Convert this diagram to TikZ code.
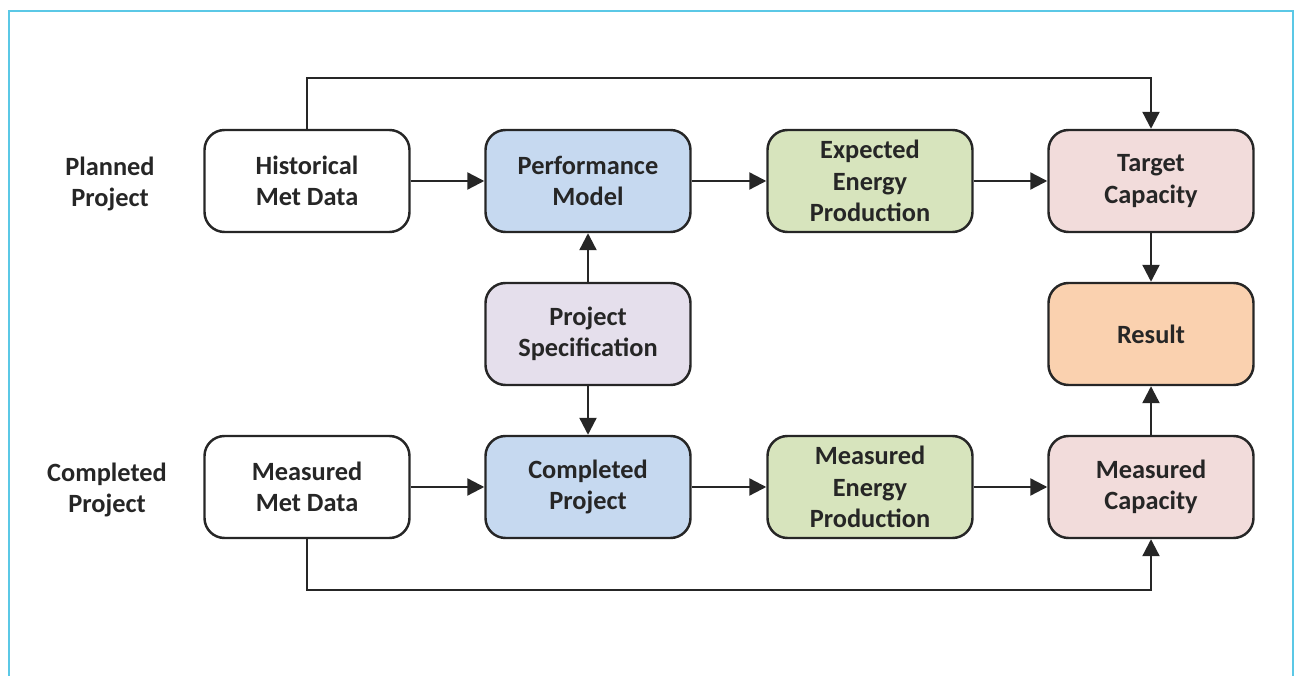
\documentclass[tikz,border=0pt]{standalone}
\usepackage{fontspec}
\setmainfont{Carlito}
\usetikzlibrary{arrows.meta, positioning}
\definecolor{frameblue}{HTML}{5BC8E6}
\definecolor{txtgray}{HTML}{262626}
\definecolor{modelblue}{HTML}{C6D9F0}
\definecolor{energygreen}{HTML}{D7E4BD}
\definecolor{capapink}{HTML}{F2DCDB}
\definecolor{resultorange}{HTML}{FAD1AF}
\definecolor{speclilac}{HTML}{E5DFEC}
\tikzset{
  block/.style={draw=txtgray, line width=1.4pt, rounded corners=0.4cm, fill=white,
    minimum width=4.1cm, minimum height=2.04cm, align=center, inner sep=0pt,
    text=txtgray, font=\fontsize{15}{18}\selectfont\bfseries},
  rowlabel/.style={align=center, text=txtgray, font=\fontsize{15}{18}\selectfont\bfseries},
  flow/.style={draw=txtgray, line width=1.3pt, -{Triangle[length=0.34cm, width=0.34cm]}}
}
\begin{document}
\begin{tikzpicture}
\useasboundingbox (0,0) rectangle (25.94,-13.52);
\draw[frameblue, line width=1pt] (0.18,-13.52) -- (0.18,-0.22) -- (25.86,-0.22) -- (25.86,-13.52);

\node[rowlabel] (planned) at (2.2,-3.68) {Planned\\Project};
\node[rowlabel] (completedlbl) at (2.14,-9.8) {Completed\\Project};

\node[block] (histmet) at (6.14,-3.62) {Historical\\Met Data};
\node[block, fill=modelblue] (perfmodel) at (11.76,-3.62) {Performance\\Model};
\node[block, fill=energygreen] (expenergy) at (17.40,-3.62) {Expected\\Energy\\Production};
\node[block, fill=capapink] (targetcap) at (23.02,-3.62) {Target\\Capacity};

\node[block, fill=speclilac] (projspec) at (11.76,-6.68) {Project\\Specification};
\node[block, fill=resultorange] (result) at (23.02,-6.68) {Result};

\node[block] (measmet) at (6.14,-9.74) {Measured\\Met Data};
\node[block, fill=modelblue] (complproj) at (11.76,-9.74) {Completed\\Project};
\node[block, fill=energygreen] (measenergy) at (17.40,-9.74) {Measured\\Energy\\Production};
\node[block, fill=capapink] (meascap) at (23.02,-9.74) {Measured\\Capacity};

\coordinate (topleft) at (6.14,-1.56);
\coordinate (topright) at (23.02,-1.56);
\coordinate (botleft) at (6.14,-11.8);
\coordinate (botright) at (23.02,-11.8);

\draw[flow] (histmet) -- (perfmodel);
\draw[flow] (perfmodel) -- (expenergy);
\draw[flow] (expenergy) -- (targetcap);
\draw[flow] (targetcap) -- (result);
\draw[flow] (projspec) -- (perfmodel);
\draw[flow] (projspec) -- (complproj);
\draw[flow] (measmet) -- (complproj);
\draw[flow] (complproj) -- (measenergy);
\draw[flow] (measenergy) -- (meascap);
\draw[flow] (meascap) -- (result);
\draw[flow] (histmet.north) -- (topleft) -- (topright) -- (targetcap.north);
\draw[flow] (measmet.south) -- (botleft) -- (botright) -- (meascap.south);
\end{tikzpicture}
\end{document}
